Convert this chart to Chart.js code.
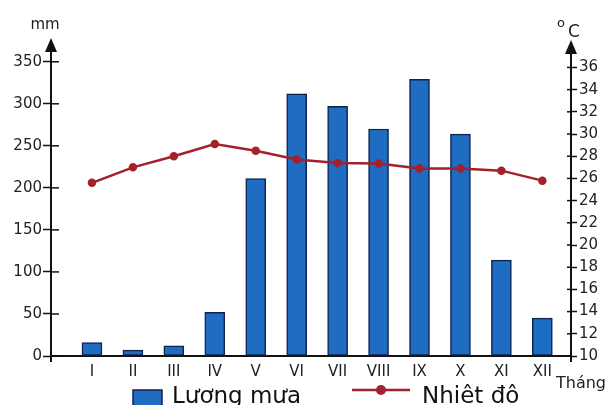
<!DOCTYPE html>
<html>
<head>
<meta charset="utf-8">
<script src="https://cdn.jsdelivr.net/npm/chart.js@4/dist/chart.umd.min.js"></script>
<style>
html,body{margin:0;padding:0;background:#fff;}
#khung{width:611px;height:405px;}
</style>
</head>
<body>
<div id="khung"><canvas id="bieudo"></canvas></div>
<script>
const thang = ["I","II","III","IV","V","VI","VII","VIII","IX","X","XI","XII"];
const luongMua = [16,7,12,52,211,312,297,270,329,264,114,45];
const nhietDo = [25.6,27.0,28.0,29.1,28.5,27.7,27.4,27.35,26.9,26.9,26.7,25.8];
const vachMm = [0,50,100,150,200,250,300,350];
const vachDo = [10,12,14,16,18,20,22,24,26,28,30,32,34,36];

const mauCot = '#1f6cc3';
const vienCot = '#10234f';
const mauDuong = '#a3212a';
const mauTruc = '#111111';
const chu = "'DejaVu Sans', sans-serif";

// ve them: vach ben trong, mui ten, chu don vi, chu thich
const trangTri = {
    id: 'trangTri',
    afterDraw(chart){
        const ctx = chart.ctx;
        const ca = chart.chartArea;
        const yT = chart.scales.y;
        const yP = chart.scales.y2;
        ctx.save();
        ctx.strokeStyle = mauTruc;
        ctx.fillStyle = mauTruc;

        // vach ben trong truc
        ctx.lineWidth = 1.5;
        vachMm.forEach(function(v){
            const py = yT.getPixelForValue(v);
            ctx.beginPath(); ctx.moveTo(ca.left, py); ctx.lineTo(ca.left + 8, py); ctx.stroke();
        });
        vachDo.forEach(function(v){
            const py = yP.getPixelForValue(v);
            ctx.beginPath(); ctx.moveTo(ca.right - 4, py); ctx.lineTo(ca.right, py); ctx.stroke();
        });

        // truc keo dai + mui ten
        ctx.lineWidth = 2;
        [[ca.left, 38], [ca.right, 40]].forEach(function(p){
            const x = p[0], tip = p[1];
            ctx.beginPath(); ctx.moveTo(x, tip + 10); ctx.lineTo(x, ca.top); ctx.stroke();
            ctx.beginPath(); ctx.moveTo(x, ca.bottom); ctx.lineTo(x, ca.bottom + 6); ctx.stroke();
            ctx.beginPath();
            ctx.moveTo(x, tip);
            ctx.lineTo(x - 6, tip + 14);
            ctx.lineTo(x + 6, tip + 14);
            ctx.closePath();
            ctx.fill();
        });

        // don vi
        ctx.fillStyle = '#222';
        ctx.textBaseline = 'alphabetic';
        ctx.textAlign = 'center';
        ctx.font = '15px ' + chu;
        ctx.fillText('mm', 45, 29);
        ctx.font = '13px ' + chu;
        ctx.fillText('o', 561, 27);
        ctx.font = '17px ' + chu;
        ctx.fillText('C', 574, 37);
        ctx.textAlign = 'left';
        ctx.font = '16px ' + chu;
        ctx.fillText('Tháng', 556, 388);

        // chu thich
        ctx.fillStyle = mauCot;
        ctx.fillRect(133, 390, 29, 17);
        ctx.strokeStyle = vienCot;
        ctx.lineWidth = 1.5;
        ctx.strokeRect(133, 390, 29, 17);
        ctx.fillStyle = '#111';
        ctx.font = '23px ' + chu;
        ctx.fillText('Lương mưa', 172, 403);

        ctx.strokeStyle = mauDuong;
        ctx.lineWidth = 2.5;
        ctx.beginPath(); ctx.moveTo(352, 390); ctx.lineTo(410, 390); ctx.stroke();
        ctx.fillStyle = mauDuong;
        ctx.beginPath(); ctx.arc(381, 390, 5, 0, Math.PI * 2); ctx.fill();
        ctx.fillStyle = '#111';
        ctx.fillText('Nhiêt đô', 422, 403);
        ctx.restore();
    }
};

function veBieuDo(){
    const ctx = document.getElementById('bieudo').getContext('2d');
    new Chart(ctx, {
        type: 'bar',
        data: {
            datasets: [{
                type: 'line',
                label: 'Nhiêt đô',
                data: nhietDo.map(function(t, i){ return {x: i + 1, y: t}; }),
                yAxisID: 'y2',
                borderColor: mauDuong,
                backgroundColor: mauDuong,
                borderWidth: 2.5,
                pointRadius: 3,
                tension: 0,
                order: 0
            }, {
                type: 'bar',
                label: 'Lương mưa',
                data: luongMua.map(function(v, i){ return {x: i + 1, y: v}; }),
                yAxisID: 'y',
                backgroundColor: mauCot,
                borderColor: vienCot,
                borderWidth: 1.5,
                borderSkipped: false,
                barThickness: 20,
                order: 1
            }]
        },
        options: {
            responsive: true,
            maintainAspectRatio: false,
            animation: false,
            layout: { padding: { top: 50, left: 0, right: 0, bottom: 0 } },
            plugins: {
                legend: { display: false },
                tooltip: { enabled: false }
            },
            scales: {
                x: {
                    type: 'linear',
                    offset: false,
                    min: 0,
                    max: 12.7,
                    afterBuildTicks: function(s){ s.ticks = thang.map(function(t, i){ return {value: i + 1}; }); },
                    afterFit: function(s){ s.height = 49; },
                    ticks: {
                        callback: function(v){ return thang[v - 1]; },
                        font: { family: chu, size: 15 },
                        color: '#222',
                        padding: 7,
                        autoSkip: false,
                        maxRotation: 0
                    },
                    grid: { display: true, drawOnChartArea: false, drawTicks: false },
                    border: { display: true, color: mauTruc, width: 2 }
                },
                y: {
                    position: 'left',
                    min: 0,
                    max: 364,
                    afterBuildTicks: function(s){ s.ticks = vachMm.map(function(v){ return {value: v}; }); },
                    afterFit: function(s){ s.width = 51; },
                    ticks: { font: { family: chu, size: 15 }, color: '#222', padding: 1 },
                    grid: { drawOnChartArea: false, tickLength: 8, color: mauTruc, tickWidth: 1.5 },
                    border: { display: true, color: mauTruc, width: 2 }
                },
                y2: {
                    position: 'right',
                    min: 10,
                    max: 37.57,
                    afterBuildTicks: function(s){ s.ticks = vachDo.map(function(v){ return {value: v}; }); },
                    afterFit: function(s){ s.width = 40; },
                    ticks: { font: { family: chu, size: 15 }, color: '#222', padding: 2 },
                    grid: { drawOnChartArea: false, tickLength: 6, color: mauTruc, tickWidth: 1.5 },
                    border: { display: true, color: mauTruc, width: 2 }
                }
            }
        },
        plugins: [trangTri]
    });
}

window.addEventListener('load', veBieuDo);
</script>
</body>
</html>
